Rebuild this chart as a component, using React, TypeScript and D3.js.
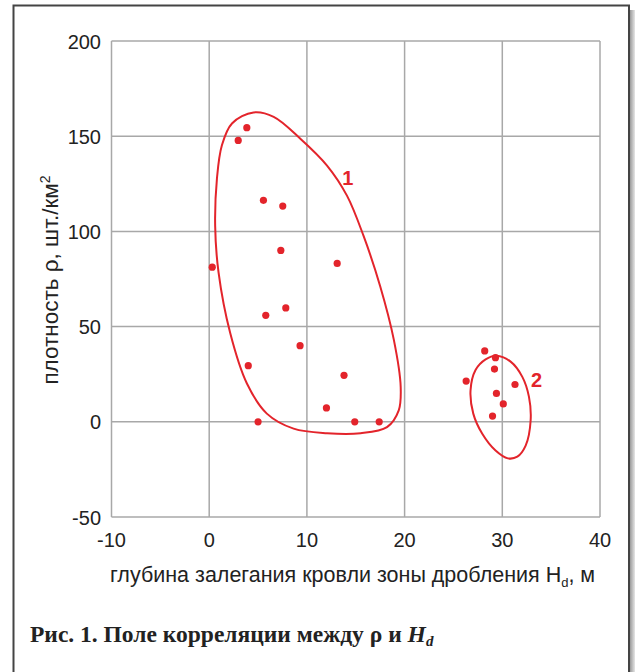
import React from "react";
import * as d3 from "d3";

// Data
const xTicks = [-10, 0, 10, 20, 30, 40];
const yTicks = [-50, 0, 50, 100, 150, 200];

// Group 1 points: [depth Hd (m), density rho]
const group1X = [3.85, 2.97, 5.55, 7.53, 7.33, 0.31, 13.1, 7.84, 5.79, 9.3, 4.0, 13.8, 12.0, 5.0, 14.9, 17.4];
const group1Y = [154.5, 147.8, 116.3, 113.3, 90, 81.2, 83.2, 59.8, 55.9, 40, 29.5, 24.4, 7.3, 0, 0, 0];

// Group 2 points
const group2X = [28.2, 29.3, 29.2, 26.3, 31.3, 29.4, 30.1, 29.0];
const group2Y = [37.2, 33.7, 27.7, 21.4, 19.6, 14.9, 9.4, 3.0];

// Enclosing contours (traced, data units)
const contour1X = [4.54, 6.6, 9.33, 12.06, 14.1, 15.8, 17.5, 18.9, 19.6, 19.4, 18.2, 15.5, 12.06, 8.64, 5.9, 3.86, 2.15, 0.96, 0.61, 0.79, 1.3, 2.33];
const contour1Y = [162.5, 160.2, 148.7, 134.6, 118.8, 97.6, 71.2, 43, 18.3, 6, -2.8, -6, -6, -3.6, 4.3, 20.1, 46.6, 78.3, 102.9, 127.6, 145.2, 156.7];
const contour2X = [29.41, 30.85, 32.05, 32.73, 32.9, 32.39, 31.54, 30.57, 29.31, 27.95, 27.03, 26.75, 27.26, 28.29];
const contour2Y = [34.7, 31.6, 23.6, 13.1, 0.7, -12.5, -18.3, -19.2, -15.1, -6.3, 4.3, 16.6, 27.2, 32.8];

const groupLabels = [
  { text: "1", x: 14.2, y: 128 },
  { text: "2", x: 33.5, y: 22 },
];

const xTitle = "глубина залегания кровли зоны дробления H";
const yTitle = "плотность ρ, шт./км";
const caption = "Рис. 1. Поле корреляции между ρ и ";

const RED = "#e3242b";
const GRID = "#a8a8a8";

export default function App() {
  const W = 635;
  const H = 672;
  const left = 111.5, right = 600, top = 41, bottom = 517;
  const x = d3.scaleLinear().domain([-10, 40]).range([left, right]);
  const y = d3.scaleLinear().domain([-50, 200]).range([bottom, top]);

  const line = d3
    .line<[number, number]>()
    .x((d) => x(d[0]))
    .y((d) => y(d[1]))
    .curve(d3.curveCatmullRomClosed.alpha(0.5));

  const c1 = contour1X.map((v, i) => [v, contour1Y[i]] as [number, number]);
  const c2 = contour2X.map((v, i) => [v, contour2Y[i]] as [number, number]);
  const pts = [
    ...group1X.map((v, i) => [v, group1Y[i]]),
    ...group2X.map((v, i) => [v, group2Y[i]]),
  ];

  const sans = "Arial, 'Liberation Sans', Helvetica, sans-serif";
  const serif = "'Times New Roman', 'Liberation Serif', serif";

  return (
    <svg
      width={W}
      height={H}
      style={{ position: "absolute", left: 0, top: 0, background: "#fff" }}
    >
      <defs>
        <linearGradient id="shadow" x1="0" x2="1" y1="0" y2="0">
          <stop offset="0" stopColor="#9a9a9a" />
          <stop offset="1" stopColor="#e6e6e6" />
        </linearGradient>
      </defs>
      {/* frame */}
      <rect x={630} y={10} width={5} height={H} fill="url(#shadow)" />
      <rect x={13.5} y={5.5} width={615.5} height={H + 20} fill="#fff" stroke="#444" strokeWidth={2} />

      {/* grid */}
      {xTicks.map((t) => (
        <line key={"gx" + t} x1={x(t)} x2={x(t)} y1={top} y2={bottom} stroke={GRID} strokeWidth={1.5} />
      ))}
      {yTicks.map((t) => (
        <line key={"gy" + t} x1={left} x2={right} y1={y(t)} y2={y(t)} stroke={GRID} strokeWidth={1.5} />
      ))}

      {/* tick labels */}
      {yTicks.map((t) => (
        <text key={"ty" + t} x={101} y={y(t) + 7.5} textAnchor="end" fontFamily={sans} fontSize={20} fill="#222">
          {t}
        </text>
      ))}
      {xTicks.map((t) => (
        <text key={"tx" + t} x={x(t)} y={547} textAnchor="middle" fontFamily={sans} fontSize={20} fill="#222">
          {t}
        </text>
      ))}

      {/* axis titles */}
      <text x={110} y={582} fontFamily={sans} fontSize={21.5} fill="#222">
        {xTitle}
        <tspan fontSize={13} dy={5}>d</tspan>
        <tspan dy={-5}>, м</tspan>
      </text>
      <text
        transform={`translate(58, ${280}) rotate(-90)`}
        textAnchor="middle"
        fontFamily={sans}
        fontSize={22.5}
        fill="#222"
      >
        {yTitle}
        <tspan fontSize={14} dy={-8}>2</tspan>
      </text>

      {/* contours */}
      <path d={line(c1) || ""} fill="none" stroke={RED} strokeWidth={2} />
      <path d={line(c2) || ""} fill="none" stroke={RED} strokeWidth={2} />

      {/* points */}
      {pts.map((p, i) => (
        <circle key={i} cx={x(p[0])} cy={y(p[1])} r={3.6} fill={RED} />
      ))}

      {groupLabels.map((g) => (
        <text key={g.text} x={x(g.x)} y={y(g.y) + 7} textAnchor="middle" fontFamily={sans} fontWeight="bold" fontSize={20} fill={RED}>
          {g.text}
        </text>
      ))}

      {/* caption */}
      <text x={30} y={642} fontFamily={serif} fontWeight="bold" fontSize={23.5} fill="#222">
        {caption}
        <tspan fontStyle="italic">H</tspan>
        <tspan fontStyle="italic" fontSize={15} dy={4}>d</tspan>
      </text>
    </svg>
  );
}
